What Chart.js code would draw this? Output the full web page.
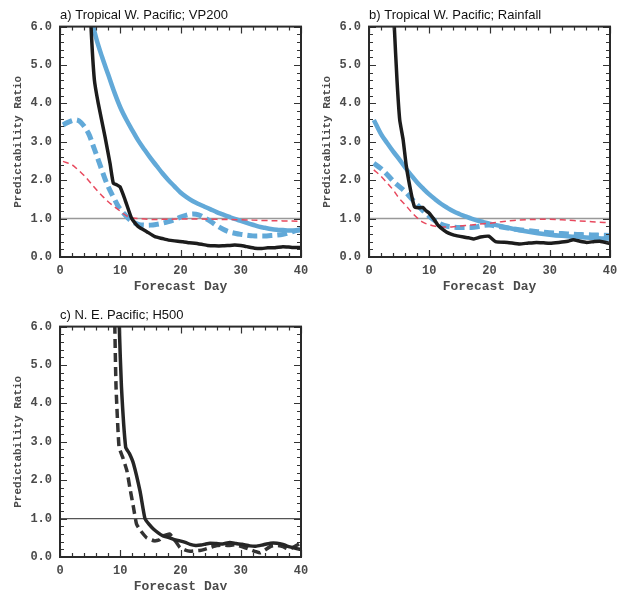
<!DOCTYPE html>
<html><head><meta charset="utf-8">
<script src="https://cdn.jsdelivr.net/npm/chart.js@4/dist/chart.umd.min.js"></script>
<style>
html,body{margin:0;padding:0;background:#fff;overflow:hidden;width:629px;height:590px;position:relative;}
canvas{position:absolute;}
</style></head><body>
<canvas id="ca" width="310" height="300" style="left:0;top:0"></canvas>
<canvas id="cb" width="310" height="300" style="left:309px;top:0"></canvas>
<canvas id="cc" width="310" height="300" style="left:0;top:300px"></canvas>
<script>
// ---------- tick labels ----------
const xTickValues = [0, 10, 20, 30, 40];
const yTickValues = [0, 1, 2, 3, 4, 5, 6];
const xMinorStep = 2;
const yMinorStep = 0.2;
const refDays = [0, 40];
const refVals = [1.0, 1.0];

// ---------- panel a: Tropical W. Pacific; VP200 ----------
const aBlackDays = [4.8, 5.15, 5.7, 6.35, 7.46, 8.3, 8.85, 9.4, 9.95, 10.8, 11.9, 13, 14.4, 15.75, 17, 18, 19, 20.4, 21.5, 22.4, 23.5, 24.5, 25.7, 27, 28, 29, 30, 31, 32.3, 33.5, 34.5, 35.7, 37, 38.5, 40];
const aBlackVals = [7.5, 6.0, 4.62, 4.0, 3.14, 2.44, 1.92, 1.88, 1.83, 1.49, 1.0, 0.79, 0.66, 0.53, 0.48, 0.44, 0.42, 0.4, 0.37, 0.36, 0.33, 0.3, 0.29, 0.29, 0.3, 0.31, 0.3, 0.27, 0.23, 0.22, 0.24, 0.24, 0.27, 0.25, 0.25];
const aBlueDays = [5, 6, 7, 8, 9, 10, 11, 12, 13, 14, 15, 16, 17, 18, 19, 20, 21, 22, 23, 24, 25, 26, 27, 28, 29, 30, 31, 32, 33, 34, 35, 36, 37, 38, 39, 40];
const aBlueVals = [6.35, 5.7, 5.2, 4.75, 4.3, 3.9, 3.58, 3.3, 3.03, 2.8, 2.58, 2.38, 2.18, 2.0, 1.84, 1.68, 1.56, 1.46, 1.38, 1.31, 1.24, 1.17, 1.11, 1.05, 0.99, 0.94, 0.89, 0.84, 0.79, 0.76, 0.73, 0.71, 0.7, 0.69, 0.69, 0.7];
const aBlueDashDays = [0.5, 1.5, 2.7, 3.5, 4.7, 5.5, 6.35, 7.2, 8, 9, 9.7, 10.5, 11.3, 12, 13, 14, 15, 16, 17, 18, 19, 20, 21, 22, 23, 24, 25, 26, 27, 28, 29, 30, 31, 32, 33, 34, 35, 36, 37, 38, 39, 40];
const aBlueDashVals = [3.44, 3.52, 3.57, 3.5, 3.23, 2.9, 2.53, 2.15, 1.83, 1.52, 1.31, 1.15, 1.01, 0.92, 0.85, 0.83, 0.83, 0.85, 0.88, 0.92, 0.97, 1.04, 1.09, 1.12, 1.1, 1.02, 0.93, 0.82, 0.73, 0.66, 0.62, 0.59, 0.57, 0.55, 0.55, 0.55, 0.56, 0.57, 0.59, 0.63, 0.68, 0.72];
const aRedDays = [0.5, 2, 3, 4, 4.7, 5.5, 6.35, 7.2, 8, 9, 9.7, 10.5, 11.3, 12, 13, 15, 17, 20, 23, 26, 30, 34, 37, 40];
const aRedVals = [2.49, 2.4, 2.27, 2.12, 2.0, 1.85, 1.7, 1.56, 1.44, 1.31, 1.23, 1.13, 1.05, 1.02, 1.0, 0.98, 0.98, 0.99, 0.99, 0.98, 0.97, 0.95, 0.94, 0.93];

// ---------- panel b: Tropical W. Pacific; Rainfall ----------
const bBlackDays = [3.9, 4.2, 4.65, 5.1, 5.67, 6.2, 7.0, 7.55, 8.2, 8.9, 9.5, 10.0, 10.8, 11.5, 12.4, 13.2, 14.1, 15.7, 16.5, 17.4, 18.5, 19.9, 21, 23, 25, 26.3, 27.8, 29, 30, 31.5, 33, 33.9, 35, 36.1, 37.3, 38.3, 40];
const bBlackVals = [7.5, 6.0, 4.6, 3.57, 3.05, 2.36, 1.66, 1.31, 1.28, 1.29, 1.2, 1.14, 0.98, 0.82, 0.7, 0.62, 0.57, 0.52, 0.5, 0.47, 0.52, 0.54, 0.4, 0.38, 0.34, 0.36, 0.38, 0.37, 0.36, 0.38, 0.41, 0.45, 0.41, 0.38, 0.4, 0.41, 0.35];
const bBlueDays = [0.8, 2, 3, 4, 5, 6, 7, 8, 9, 10, 11, 12, 13, 14, 15, 16, 17, 18, 19, 20, 22, 24, 26, 28, 30, 32, 34, 36, 38, 40];
const bBlueVals = [3.57, 3.2, 2.97, 2.75, 2.55, 2.33, 2.13, 1.94, 1.78, 1.63, 1.5, 1.38, 1.28, 1.19, 1.12, 1.06, 1.0, 0.95, 0.91, 0.87, 0.8, 0.73, 0.67, 0.62, 0.58, 0.55, 0.53, 0.51, 0.49, 0.48];
const bBlueDashDays = [0.8, 2, 3, 4, 5, 6, 7, 8, 9, 10, 11, 12, 13, 14, 15, 16, 17, 18, 19, 20, 22, 24, 26, 28, 30, 32, 34, 36, 38, 40];
const bBlueDashVals = [2.44, 2.3, 2.15, 1.98, 1.84, 1.7, 1.53, 1.36, 1.2, 1.06, 0.94, 0.85, 0.8, 0.78, 0.77, 0.77, 0.77, 0.79, 0.82, 0.83, 0.78, 0.73, 0.69, 0.66, 0.63, 0.61, 0.59, 0.58, 0.57, 0.56];
const bRedDays = [0.8, 2, 3, 4, 5, 6, 7, 8, 9, 10, 11, 12, 13, 14, 16, 18, 20, 22, 24, 26, 28, 30, 32, 34, 36, 38, 40];
const bRedVals = [2.27, 2.1, 1.93, 1.75, 1.53, 1.36, 1.18, 1.02, 0.9, 0.84, 0.8, 0.78, 0.78, 0.79, 0.82, 0.85, 0.88, 0.92, 0.95, 0.97, 0.98, 0.98, 0.97, 0.95, 0.93, 0.91, 0.89];

// ---------- panel c: N. E. Pacific; H500 ----------
const cBlackDays = [9.7, 9.84, 10.2, 10.9, 11.5, 12.2, 13.3, 14.1, 14.8, 15.5, 16.3, 17.1, 18.2, 19.0, 19.9, 20.8, 21.6, 22.5, 23.4, 24.2, 24.9, 26, 27, 28.2, 29.2, 30.2, 31.5, 32.5, 33.5, 34.9, 36, 37, 37.6, 38.5, 39.8, 40];
const cBlackVals = [7.5, 6.0, 4.43, 2.86, 2.7, 2.43, 1.7, 1.0, 0.85, 0.73, 0.63, 0.55, 0.5, 0.45, 0.42, 0.38, 0.33, 0.3, 0.31, 0.34, 0.36, 0.35, 0.34, 0.38, 0.35, 0.33, 0.29, 0.28, 0.31, 0.36, 0.36, 0.33, 0.29, 0.25, 0.2, 0.2];
const cDashDays = [9.0, 9.1, 9.3, 9.8, 10.4, 11.1, 11.6, 12.2, 12.7, 13.4, 14.4, 15.7, 16.5, 17.1, 17.7, 18.2, 19.0, 19.9, 20.8, 21.6, 22.4, 23.2, 24.0, 25, 26, 27, 28, 29, 30, 31.5, 32.5, 33.2, 34, 35, 36, 37, 38, 39, 40];
const cDashVals = [7.5, 6.0, 4.43, 2.86, 2.6, 2.25, 1.8, 1.29, 0.86, 0.68, 0.5, 0.42, 0.45, 0.55, 0.58, 0.6, 0.45, 0.25, 0.18, 0.15, 0.16, 0.17, 0.2, 0.25, 0.3, 0.31, 0.3, 0.32, 0.28, 0.2, 0.14, 0.11, 0.18, 0.28, 0.3, 0.27, 0.2, 0.28, 0.37];

const MONO = "'Liberation Mono', 'Courier New', monospace";
const SANS = "'Liberation Sans', Arial, sans-serif";
const BLUE = '#62a9d8';
const TXT = '#4a4a4a';

function pts(days, vals) { return days.map((d, i) => ({ x: d, y: vals[i] })); }

function series(days, vals, style) {
  return Object.assign({
    data: pts(days, vals), pointRadius: 0, fill: false, clip: 0,
    borderCapStyle: 'butt', borderJoinStyle: 'round'
  }, style);
}

const frameTicks = {
  id: 'frameTicks',
  afterDatasetsDraw(chart) {
    const { ctx, chartArea: a, scales: { x, y } } = chart;
    ctx.save();
    ctx.strokeStyle = '#333';
    ctx.lineWidth = 1.2;
    ctx.beginPath();
    const xMin = xTickValues[0], xMax = xTickValues[xTickValues.length - 1];
    for (let v = xMin; v <= xMax + 1e-6; v += xMinorStep) {
      const major = xTickValues.some(t => Math.abs(t - v) < 1e-6);
      const L = major ? 7 : 4;
      const px = Math.round(x.getPixelForValue(v)) + 0.5;
      ctx.moveTo(px, a.bottom); ctx.lineTo(px, a.bottom - L);
      ctx.moveTo(px, a.top); ctx.lineTo(px, a.top + L);
    }
    const yMin = yTickValues[0], yMax = yTickValues[yTickValues.length - 1];
    for (let v = yMin; v <= yMax + 1e-6; v += yMinorStep) {
      const major = yTickValues.some(t => Math.abs(t - v) < 1e-6);
      const L = major ? 7 : 4;
      const py = Math.round(y.getPixelForValue(v)) + 0.5;
      ctx.moveTo(a.left, py); ctx.lineTo(a.left + L, py);
      ctx.moveTo(a.right, py); ctx.lineTo(a.right - L, py);
    }
    ctx.stroke();
    ctx.lineWidth = 2;
    ctx.strokeStyle = '#2a2a2a';
    ctx.strokeRect(a.left, a.top, a.right - a.left, a.bottom - a.top);
    ctx.restore();
  }
};

function makeChart(id, title, datasets, refColor, refWidth) {
  datasets.push(series(refDays, refVals, { borderColor: refColor, borderWidth: refWidth, tension: 0, order: 9 }));
  return new Chart(document.getElementById(id), {
    type: 'line',
    data: { datasets },
    options: {
      responsive: false, animation: false, events: [],
      layout: { padding: { left: 0, right: 9, top: 8, bottom: 0 } },
      plugins: {
        legend: { display: false }, tooltip: { enabled: false },
        title: {
          display: true, text: title, align: 'start', fullSize: false,
          color: '#111', font: { family: SANS, size: 13, weight: 'normal' },
          padding: { top: 0, bottom: 3 }
        }
      },
      scales: {
        x: {
          type: 'linear', min: 0, max: 40,
          afterBuildTicks: s => { s.ticks = xTickValues.map(v => ({ value: v })); },
          afterFit: s => { s.height = 43; s.paddingLeft = 0; s.paddingRight = 0; },
          grid: { display: false, drawTicks: false }, border: { display: false },
          ticks: { color: TXT, font: { family: MONO, size: 12, weight: 'bold' }, padding: 7, maxRotation: 0, autoSkip: false },
          title: { display: true, text: 'Forecast Day', color: TXT, font: { family: MONO, size: 13, weight: 'bold' }, padding: { top: 0, bottom: 5 } }
        },
        y: {
          type: 'linear', min: 0, max: 6,
          afterBuildTicks: s => { s.ticks = yTickValues.map(v => ({ value: v })); },
          afterFit: s => { s.width = 60; s.paddingTop = 0; s.paddingBottom = 0; },
          grid: { display: false, drawTicks: false }, border: { display: false },
          ticks: { color: TXT, font: { family: MONO, size: 12, weight: 'bold' }, padding: 8, callback: v => Number(v).toFixed(1) },
          title: { display: true, text: 'Predictability Ratio', color: TXT, font: { family: MONO, size: 11, weight: 'bold' }, padding: { top: 12, bottom: 0 } }
        }
      }
    },
    plugins: [frameTicks]
  });
}

makeChart('ca', 'a) Tropical W. Pacific; VP200', [
  series(aBlackDays, aBlackVals, { borderColor: '#1c1c1c', borderWidth: 3.5, tension: 0.15, order: 0 }),
  series(aRedDays, aRedVals, { borderColor: '#e8495e', borderWidth: 1.5, borderDash: [6, 4], tension: 0.35, order: 1 }),
  series(aBlueDashDays, aBlueDashVals, { borderColor: BLUE, borderWidth: 5, borderDash: [10, 5], tension: 0.35, order: 2 }),
  series(aBlueDays, aBlueVals, { borderColor: BLUE, borderWidth: 4.5, tension: 0.35, order: 3 })
], '#999', 1.5);

makeChart('cb', 'b) Tropical W. Pacific; Rainfall', [
  series(bBlackDays, bBlackVals, { borderColor: '#1c1c1c', borderWidth: 3.5, tension: 0.15, order: 0 }),
  series(bRedDays, bRedVals, { borderColor: '#e8495e', borderWidth: 1.5, borderDash: [6, 4], tension: 0.35, order: 1 }),
  series(bBlueDashDays, bBlueDashVals, { borderColor: BLUE, borderWidth: 5, borderDash: [10, 5], tension: 0.35, order: 2 }),
  series(bBlueDays, bBlueVals, { borderColor: BLUE, borderWidth: 4.5, tension: 0.35, order: 3 })
], '#999', 1.5);

makeChart('cc', 'c) N. E. Pacific; H500', [
  series(cBlackDays, cBlackVals, { borderColor: '#262626', borderWidth: 3.5, tension: 0.15, order: 0 }),
  series(cDashDays, cDashVals, { borderColor: '#333', borderWidth: 3.5, borderDash: [9, 5], tension: 0.15, order: 1 })
], '#555', 1.2);
</script>
</body></html>
